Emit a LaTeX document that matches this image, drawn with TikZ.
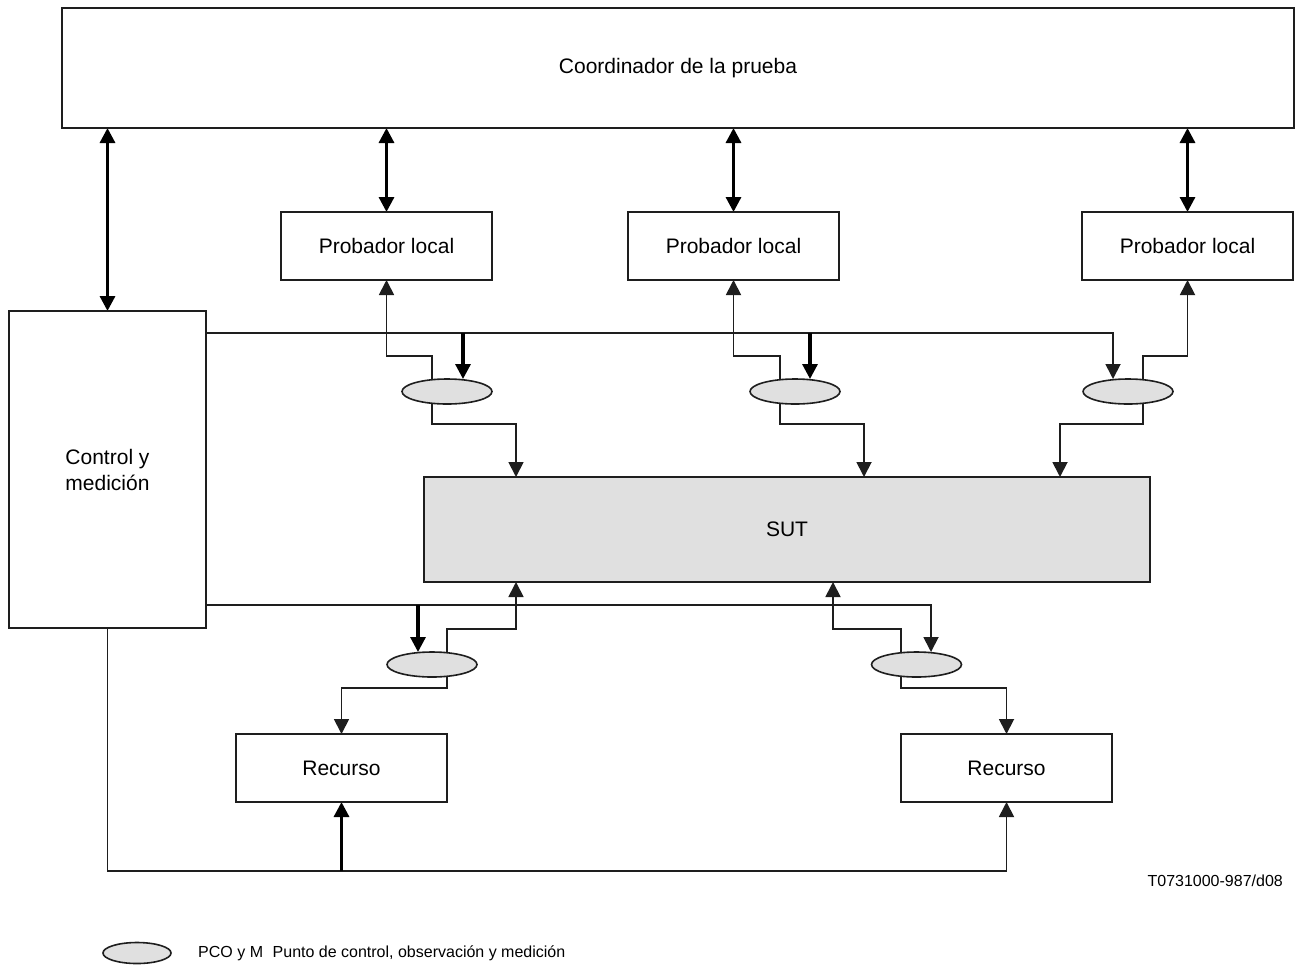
\documentclass[tikz,border=0pt]{standalone}
\usepackage{fontspec}
\setmainfont{Liberation Sans}
\usetikzlibrary{arrows.meta,shapes.geometric,backgrounds}

\definecolor{linegray}{RGB}{30,30,30}
\definecolor{pcofill}{RGB}{224,224,224}

\tikzset{
  box/.style={draw=linegray, line width=1.7pt, fill=white, inner sep=0pt, outer sep=0pt,
              align=center, font=\fontsize{21}{26}\selectfont},
  graybox/.style={box, fill=pcofill},
  pco/.style={ellipse, draw=linegray, line width=1.6pt, fill=pcofill, inner sep=0pt, outer sep=0pt,
              minimum width=90pt, minimum height=25pt},
  wire/.style={draw=linegray, line width=1.8pt},
  arr/.style={wire, -{Triangle[length=15pt,width=15pt]}},
  tharr/.style={draw=black, line width=3.2pt, -{Triangle[length=15pt,width=15pt]}},
  dblarr/.style={draw=black, line width=3.2pt, {Triangle[length=15pt,width=15pt]}-{Triangle[length=15pt,width=15pt]}},
}

\begin{document}
\begin{tikzpicture}[x=1pt, y=-1pt]
\useasboundingbox (0,0) rectangle (1297,967);

% main blocks
\node[box, minimum width=1232pt, minimum height=120pt] (coord) at (678,68) {Coordinador de la prueba};
\node[box, minimum width=211pt, minimum height=68pt] (pl1) at (386.5,246) {Probador local};
\node[box, minimum width=211pt, minimum height=68pt] (pl2) at (733.5,246) {Probador local};
\node[box, minimum width=211pt, minimum height=68pt] (pl3) at (1187.5,246) {Probador local};
\node[box, minimum width=197pt, minimum height=317pt] (ctrl) at (107.5,469.5) {Control y\\medición};
\node[graybox, minimum width=726pt, minimum height=105pt] (sut) at (787,529.5) {SUT};
\node[box, minimum width=211pt, minimum height=68pt] (rec1) at (341.5,768) {Recurso};
\node[box, minimum width=211pt, minimum height=68pt] (rec2) at (1006.5,768) {Recurso};

% points of control, observation and measurement
\node[pco] (pco1) at (447,391.5) {};
\node[pco] (pco2) at (795,391.5) {};
\node[pco] (pco3) at (1128,391.5) {};
\node[pco] (pco4) at (432,664.5) {};
\node[pco] (pco5) at (916.5,664.5) {};

% rails
\coordinate (busT) at (206,333);
\coordinate (jT) at (0,356);
\coordinate (jTb) at (0,424);
\coordinate (busB) at (206,605);
\coordinate (jB) at (0,629);
\coordinate (jBb) at (0,688);
\coordinate (busL) at (0,871);

% attachment points on the ellipses
\coordinate (a1) at ([xshift=-15pt]pco1.center);
\coordinate (d1) at ([xshift=16pt]pco1.north);
\coordinate (a2) at ([xshift=-15pt]pco2.center);
\coordinate (d2) at ([xshift=15pt]pco2.north);
\coordinate (a3) at ([xshift=15pt]pco3.center);
\coordinate (d3) at ([xshift=-15pt]pco3.north);
\coordinate (a4) at ([xshift=15pt]pco4.center);
\coordinate (d4) at ([xshift=-14pt]pco4.north);
\coordinate (a5) at ([xshift=-15.5pt]pco5.center);
\coordinate (d5) at ([xshift=14.5pt]pco5.north);

% entry points on the SUT
\coordinate (s1) at (516,0 |- sut.north);
\coordinate (s2) at (864,0 |- sut.north);
\coordinate (s3) at (1060,0 |- sut.north);
\coordinate (s4) at (516,0 |- sut.south);
\coordinate (s5) at (833,0 |- sut.south);

\begin{scope}[on background layer]
  % coordinator links
  \draw[dblarr] (ctrl.north) -- (ctrl.north |- coord.south);
  \draw[dblarr] (pl1.north) -- (pl1.north |- coord.south);
  \draw[dblarr] (pl2.north) -- (pl2.north |- coord.south);
  \draw[dblarr] (pl3.north) -- (pl3.north |- coord.south);

  % upper control rail
  \draw[arr] (ctrl.east |- busT) -| (d3);
  \draw[tharr] (d1 |- busT) -- (d1);
  \draw[tharr] (d2 |- busT) -- (d2);

  % upper PCOs to testers and SUT
  \draw[arr] (a1) -- (a1 |- jT) -| (pl1.south);
  \draw[arr] (a1) -- (a1 |- jTb) -| (s1);
  \draw[arr] (a2) -- (a2 |- jT) -| (pl2.south);
  \draw[arr] (a2) -- (a2 |- jTb) -| (s2);
  \draw[arr] (a3) -- (a3 |- jT) -| (pl3.south);
  \draw[arr] (a3) -- (a3 |- jTb) -| (s3);

  % lower control rail
  \draw[arr] (ctrl.east |- busB) -| (d5);
  \draw[tharr] (d4 |- busB) -- (d4);

  % lower PCOs to SUT and resources
  \draw[arr] (a4) -- (a4 |- jB) -| (s4);
  \draw[arr] (a4) -- (a4 |- jBb) -| (rec1.north);
  \draw[arr] (a5) -- (a5 |- jB) -| (s5);
  \draw[arr] (a5) -- (a5 |- jBb) -| (rec2.north);

  % resource control
  \draw[arr] (ctrl.south) |- (rec2.south |- busL) -- (rec2.south);
  \draw[tharr] (rec1.south |- busL) -- (rec1.south);
\end{scope}

% figure tag
\node[anchor=east, inner sep=0pt, font=\fontsize{16}{19}\selectfont] (tag) at (1283,881) {T0731000-987/d08};

% legend
\node[pco, minimum width=68pt, minimum height=21pt] (legpco) at (137,953) {};
\node[anchor=west, inner sep=0pt, font=\fontsize{16}{19}\selectfont] (legtxt) at (198,953)
  {PCO y M\hspace{0.6em}Punto de control, observación y medición};
\end{tikzpicture}
\end{document}
